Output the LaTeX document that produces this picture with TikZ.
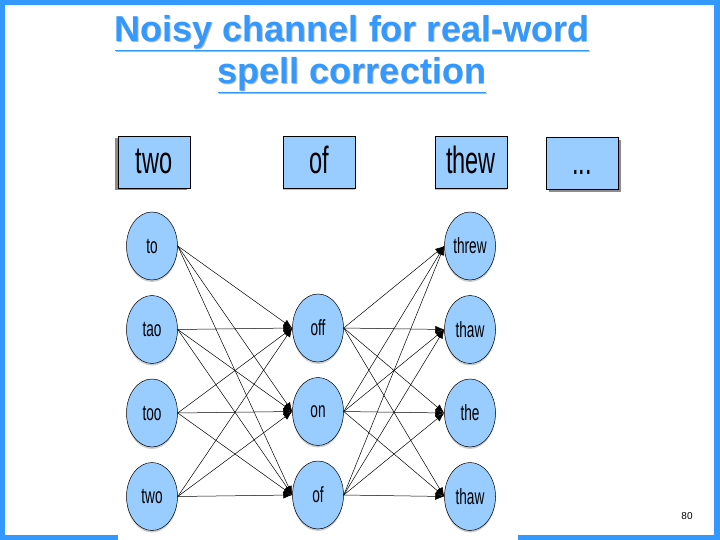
\documentclass[tikz,border=0pt]{standalone}
\usepackage{fontspec}
\setmainfont{Liberation Sans}
\newfontfamily\narrowfont[FakeStretch=0.62]{Liberation Sans}
\usetikzlibrary{arrows.meta,positioning,shadows,shapes.geometric}
\definecolor{titreC}{RGB}{51,153,255}
\definecolor{noeudC}{RGB}{153,204,255}
\tikzset{
  titre/.style={align=center, font=\bfseries\fontsize{36}{42}\selectfont},
  motbox/.style={rectangle, draw=black, line width=0.6pt, fill=noeudC,
                 minimum width=72pt, minimum height=52pt, inner sep=0pt,
                 text height=26pt, text depth=2pt,
                 font=\narrowfont\fontsize{38}{40}\selectfont},
  cand/.style={ellipse, draw=black, line width=0.5pt, fill=noeudC,
               minimum width=51pt, minimum height=68pt, inner sep=0pt,
               font=\narrowfont\fontsize{22}{24}\selectfont,
               drop shadow={shadow xshift=0pt, shadow yshift=-2pt, opacity=0.4}},
  arr/.style={-{Latex[length=9pt,width=7pt]}, line width=0.5pt, draw=black},
}

\begin{document}
\begin{tikzpicture}[x=1pt, y=-1pt, node distance=15pt]
  \useasboundingbox (0,0) rectangle (720,540);
  % cadre
  \fill[titreC] (0,0) rectangle (720,5);
  \fill[titreC] (0,0) rectangle (5,540);
  \fill[titreC] (714,0) rectangle (720,540);
  \fill[titreC] (0,535) rectangle (118,540);
  \fill[titreC] (518,535) rectangle (720,540);
  % titre
  \node[titre, text=gray!55] (ombre) at (352.8,55)
    {\underline{Noisy channel for real-word}\\ \underline{spell correction}};
  \node[titre, text=titreC] (titre) at (352,54)
    {\underline{Noisy channel for real-word}\\ \underline{spell correction}};
  % mots observes
  \node[motbox, drop shadow={shadow xshift=-3pt, shadow yshift=-2pt, opacity=0.9}] (t1) at (154,162) {two};
  \node[motbox, drop shadow={shadow xshift=0pt, shadow yshift=-2pt, opacity=0.5}] (t2) at (319,162) {of};
  \node[motbox, drop shadow={shadow xshift=0pt, shadow yshift=-2pt, opacity=0.5}] (t3) at (471,162) {thew};
  \node[motbox, drop shadow={shadow xshift=3pt, shadow yshift=-3pt, opacity=0.9}] (t4) at (582,163) {...};
  % candidats
  \node[cand] (l1) at (152,246) {to};
  \node[cand, below=of l1] (l2) {tao};
  \node[cand, below=of l2] (l3) {too};
  \node[cand, below=of l3] (l4) {two};
  \node[cand] (m2) at (318,328) {off};
  \node[cand, below=of m2] (m3) {on};
  \node[cand, below=of m3] (m4) {of};
  \node[cand] (r1) at (470,246) {threw};
  \node[cand, below=of r1] (r2) {thaw};
  \node[cand, below=of r2] (r3) {the};
  \node[cand, below=of r3] (r4) {thaw};
  % transitions
  \draw[arr] (l1.east) -- (m2.west); \draw[arr] (l1.east) -- (m3.west); \draw[arr] (l1.east) -- (m4.west);
  \draw[arr] (l2.east) -- (m2.west); \draw[arr] (l2.east) -- (m3.west); \draw[arr] (l2.east) -- (m4.west);
  \draw[arr] (l3.east) -- (m2.west); \draw[arr] (l3.east) -- (m3.west); \draw[arr] (l3.east) -- (m4.west);
  \draw[arr] (l4.east) -- (m2.west); \draw[arr] (l4.east) -- (m3.west); \draw[arr] (l4.east) -- (m4.west);
  \draw[arr] (m2.east) -- (r1.west); \draw[arr] (m2.east) -- (r2.west); \draw[arr] (m2.east) -- (r3.west); \draw[arr] (m2.east) -- (r4.west);
  \draw[arr] (m3.east) -- (r1.west); \draw[arr] (m3.east) -- (r2.west); \draw[arr] (m3.east) -- (r3.west); \draw[arr] (m3.east) -- (r4.west);
  \draw[arr] (m4.east) -- (r1.west); \draw[arr] (m4.east) -- (r2.west); \draw[arr] (m4.east) -- (r3.west); \draw[arr] (m4.east) -- (r4.west);
  % numero
  \node[font=\fontsize{10}{12}\selectfont] (page) at (687,516) {80};
\end{tikzpicture}
\end{document}
